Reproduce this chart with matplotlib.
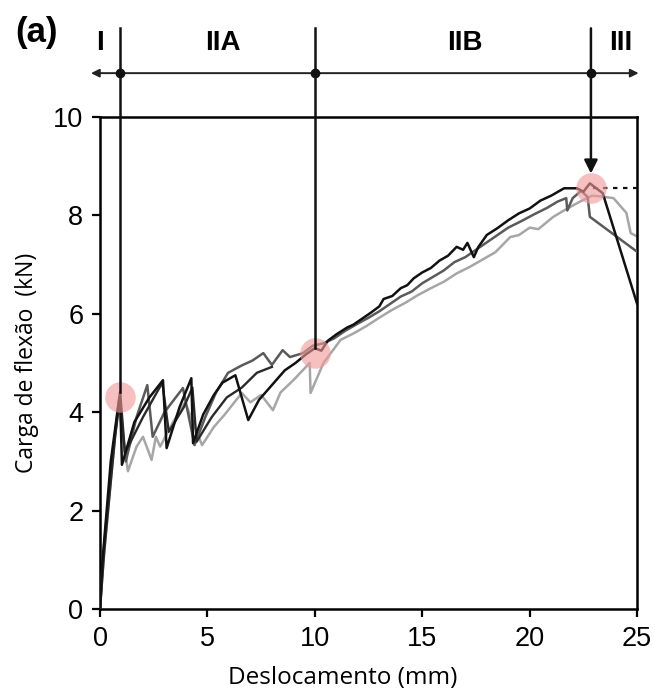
import matplotlib
matplotlib.use("Agg")
import matplotlib.pyplot as plt

# load-displacement curves (mm, kN)
x_black = [0, 0.1, 0.5, 0.93, 1.02, 1.6, 2.3, 2.93, 3.1, 3.7, 4.25, 4.33, 4.8, 5.3, 5.7, 6.3, 6.9,
           7.4, 8.0, 8.6, 9.1, 9.6, 10.0, 10.3, 10.6, 11.0, 11.5, 11.8, 12.2, 12.6, 13.0, 13.2, 13.6,
           14.0, 14.3, 14.6, 15.0, 15.4, 15.8, 16.2, 16.6, 16.9, 17.1, 17.4, 17.6, 18.0, 18.5, 19.0,
           19.5, 20.0, 20.5, 21.0, 21.6, 22.2, 22.5, 22.8, 23.1, 23.4, 25.0]
y_black = [0, 0.9, 3.0, 4.4, 2.93, 3.8, 4.3, 4.65, 3.27, 4.1, 4.69, 3.37, 3.95, 4.35, 4.6, 4.75, 3.84,
           4.25, 4.55, 4.85, 5.0, 5.18, 5.3, 5.25, 5.45, 5.58, 5.72, 5.78, 5.9, 6.02, 6.15, 6.3, 6.36,
           6.52, 6.58, 6.72, 6.84, 6.93, 7.08, 7.18, 7.36, 7.3, 7.44, 7.15, 7.35, 7.6, 7.74, 7.9,
           8.04, 8.14, 8.3, 8.4, 8.55, 8.55, 8.48, 8.65, 8.55, 8.45, 6.2]

x_dark = [0, 0.15, 0.6, 0.9, 1.2, 1.7, 2.2, 2.45, 3.0, 3.86, 4.4, 4.9, 5.4, 5.96, 6.6, 7.1, 7.6,
          8.0, 8.5, 8.84, 9.45, 9.9, 10.4, 10.9, 11.4, 12.0, 12.5, 13.0, 13.5, 14.0, 14.5, 15.0,
          15.5, 16.0, 16.5, 17.0, 17.5, 18.0, 18.5, 19.0, 19.6, 20.2, 20.8, 21.3, 21.7, 21.75,
          22.0, 22.4, 22.7, 22.8, 25.0]
y_dark = [0, 1.1, 3.2, 4.3, 3.0, 3.9, 4.55, 3.5, 4.0, 4.49, 3.33, 3.9, 4.4, 4.8, 4.95, 5.05, 5.2,
          4.96, 5.26, 5.12, 5.2, 5.35, 5.4, 5.5, 5.65, 5.8, 5.92, 6.05, 6.2, 6.35, 6.45, 6.62,
          6.75, 6.88, 7.05, 7.15, 7.3, 7.45, 7.6, 7.75, 7.88, 8.02, 8.15, 8.28, 8.35, 8.1,
          8.35, 8.5, 8.37, 7.97, 7.26]

x_grey = [0, 0.15, 0.5, 0.85, 1.3, 1.7, 2.0, 2.4, 2.6, 2.8, 3.4, 3.96, 4.75, 5.3, 5.8, 6.6, 7.0,
          7.5, 8.05, 8.4, 9.0, 9.76, 9.8, 10.4, 11.2, 11.8, 12.4, 13.0, 13.6, 14.2, 14.8, 15.4,
          16.0, 16.6, 17.2, 17.8, 18.4, 19.1, 19.5, 20.0, 20.4, 21.1, 21.6, 22.3, 22.9, 23.4,
          23.9, 24.5, 24.7, 25.0]
y_grey = [0, 0.9, 2.6, 4.15, 2.8, 3.3, 3.5, 3.03, 3.5, 3.3, 3.8, 4.2, 3.33, 3.7, 3.95, 4.39, 4.2,
          4.35, 4.04, 4.4, 4.65, 5.0, 4.39, 5.0, 5.47, 5.6, 5.75, 5.92, 6.08, 6.22, 6.38, 6.52,
          6.65, 6.82, 6.95, 7.1, 7.25, 7.56, 7.6, 7.75, 7.72, 7.97, 8.1, 8.27, 8.4, 8.38,
          8.35, 8.05, 7.64, 7.57]

x_dark2 = [0, 0.2, 0.7, 0.95, 1.16, 2.0, 2.9, 3.2, 3.9, 4.3, 4.5, 5.2, 5.9, 6.6, 7.3, 8.0]
y_dark2 = [0, 1.2, 3.5, 4.35, 3.17, 3.9, 4.6, 3.6, 4.1, 4.5, 3.4, 3.9, 4.3, 4.5, 4.8, 4.92]

stage_x = [0.93, 10.0, 22.85]           # stage boundaries (mm)
stage_y = [4.42, 5.3, 8.85]             # where the boundary lines stop
circle_x = [0.93, 10.0, 22.85]
circle_y = [4.3, 5.2, 8.55]
stage_labels = ["I", "IIA", "IIB", "III"]
stage_label_x = [0.0, 5.7, 17.0, 24.25]

fig = plt.figure(figsize=(6.55, 6.94), dpi=100)
ax = fig.add_axes([0.1527, 0.1225, 0.82, 0.709])

ax.plot(x_grey, y_grey, color="#a6a6a6", lw=1.8, zorder=2)
ax.plot(x_dark, y_dark, color="#5a5a5a", lw=1.8, zorder=3)
ax.plot(x_dark2, y_dark2, color="#2a2a2a", lw=1.7, zorder=3)
ax.plot(x_black, y_black, color="#111111", lw=1.8, zorder=4)
ax.plot([22.95, 25], [8.55, 8.55], color="#111111", lw=1.6, ls=(0, (2, 2.5)), zorder=4)

ax.plot(circle_x, circle_y, "o", ms=22, color="#f29a9a", alpha=0.62, mec="none", zorder=5)

ax.set_xlim(0, 25)
ax.set_ylim(0, 10)
ax.set_xticks([0, 5, 10, 15, 20, 25])
ax.set_yticks([0, 2, 4, 6, 8, 10])
for s in ax.spines.values():
    s.set_linewidth(1.8)
ax.tick_params(direction="out", length=6, width=1.6, labelsize=19.5, pad=6)
for lab in ax.get_xticklabels() + ax.get_yticklabels():
    lab.set_family("Liberation Sans")

ax.set_xlabel("Deslocamento (mm)", fontsize=17.5, family="Open Sans")
ax.xaxis.set_label_coords(0.452, -0.115)
ax.set_ylabel("Carga de flexão  (kN)", fontsize=16.5, family="Open Sans", labelpad=10)

# stage annotation above the axes
top = 11.8
arrow_y = 10.89
ax.annotate("", xy=(-0.55, arrow_y), xytext=(25.2, arrow_y), annotation_clip=False,
            arrowprops=dict(arrowstyle="<|-|>", color="#222222", lw=1.4, mutation_scale=12))
for i in range(3):
    if i < 2:
        ax.plot([stage_x[i], stage_x[i]], [top, stage_y[i]], color="#111111", lw=1.8,
                clip_on=False, zorder=6)
    else:
        ax.annotate("", xy=(stage_x[i], stage_y[i]), xytext=(stage_x[i], top),
                    annotation_clip=False, zorder=6,
                    arrowprops=dict(arrowstyle="-|>", color="#111111", lw=1.8,
                                    mutation_scale=20, shrinkA=0, shrinkB=0))
    ax.plot(stage_x[i], arrow_y, "o", ms=6, color="#111111", clip_on=False, zorder=7)

for lab, lx in zip(stage_labels, stage_label_x):
    ax.text(lx, 11.5, lab, ha="center", va="center", fontsize=20, fontweight="bold",
            family="Liberation Sans", clip_on=False)

fig.text(0.055, 0.953, "(a)", ha="center", va="center", fontsize=25, fontweight="bold",
         family="Liberation Sans")

fig.savefig("out.png", dpi=100)
